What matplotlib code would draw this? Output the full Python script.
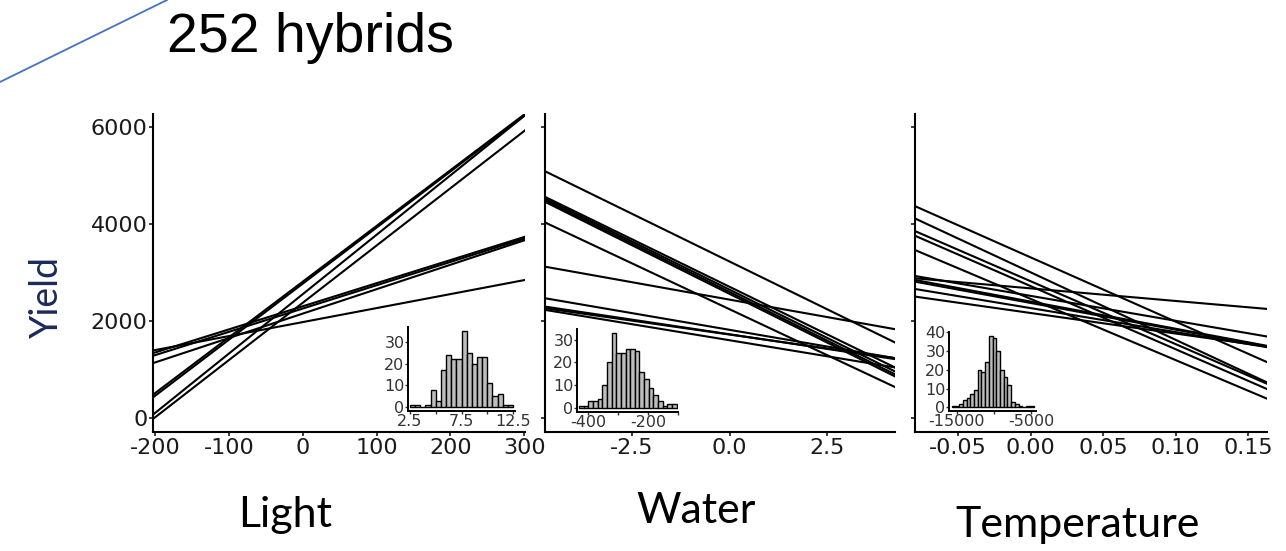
import numpy as np
import matplotlib
matplotlib.use('Agg')
import matplotlib.pyplot as plt
from matplotlib.lines import Line2D

plt.rcParams['axes.unicode_minus'] = False
plt.rcParams['font.family'] = 'DejaVu Sans'

W, H = 1286, 551

# regression lines: yield at the left and right edge of each panel
light_left = [480, 425, 69, -20, 1392, 1337, 1282, 1131]
light_right = [6270, 6250, 6240, 5930, 2846, 3737, 3703, 3668]
water_left = [5088, 4560, 4526, 4491, 4457, 4032, 3120, 2469, 2297, 2263, 2229]
water_right = [1557, 1042, 960, 900, 857, 638, 1831, 1234, 1214, 1234, 1042]
temp_left = [4368, 4114, 3854, 3758, 3463, 2928, 2880, 2846, 2811, 2660, 2503]
temp_right = [1152, 734, 706, 597, 398, 1680, 2249, 1488, 1474, 1460, 1474]

light_ticks = [-200, -100, 0, 100, 200, 300]
light_labels = ['-200', '-100', '0', '100', '200', '300']
water_ticks = [-2.5, 0.0, 2.5]
water_labels = ['-2.5', '0.0', '2.5']
temp_ticks = [-0.05, 0.0, 0.05, 0.10, 0.15]
temp_labels = ['-0.05', '0.00', '0.05', '0.10', '0.15']
yield_ticks = [0, 2000, 4000, 6000]

# slope histograms (insets)
light_start, light_bw = 2.5, 0.5
light_counts = [1, 1, 0, 1, 8, 3, 17, 24, 22, 22, 35, 25, 20, 23, 23, 11, 5, 6, 1, 1]
water_start, water_bw = -430, 15.5
water_counts = [1, 1, 3, 3, 4, 10, 20, 33, 24, 24, 26, 26, 25, 16, 13, 9, 6, 3, 1, 2, 2]
temp_start, temp_bw = -15700, 500
temp_counts = [1, 1, 2, 4, 5, 7, 9, 20, 19, 24, 38, 37, 30, 20, 16, 12, 3, 2, 1, 0, 1, 1]


def rect(x0, x1, ytop, ybot):
    return [x0 / W, 1 - ybot / H, (x1 - x0) / W, (ybot - ytop) / H]


def style(ax, lw=1.5):
    for s in ['top', 'right']:
        ax.spines[s].set_visible(False)
    for s in ['left', 'bottom']:
        ax.spines[s].set_linewidth(lw)
        ax.spines[s].set_color('black')
    ax.set_facecolor('none')


fig = plt.figure(figsize=(W / 100, H / 100), dpi=100)

panels = [
    (rect(153, 525, 114, 432), (-203, 301), light_left, light_right, light_ticks, light_labels),
    (rect(545, 895, 114, 432), (-4.72, 4.23), water_left, water_right, water_ticks, water_labels),
    (rect(915, 1267, 114, 432), (-0.0797, 0.1631), temp_left, temp_right, temp_ticks, temp_labels),
]
for i, (pos, xlim, left, right, ticks, labels) in enumerate(panels):
    ax = fig.add_axes(pos)
    style(ax)
    for a, b in zip(left, right):
        ax.plot(xlim, [a, b], color='black', lw=1.5)
    ax.set_xlim(xlim)
    ax.set_ylim(-289, 6268)
    ax.set_xticks(ticks)
    ax.set_xticklabels(labels)
    ax.set_yticks(yield_ticks)
    ax.tick_params(length=3, width=1.2, pad=1, labelsize=16, colors='#1a1a1a')
    if i > 0:
        ax.tick_params(labelleft=False)

insets = [
    (rect(408, 515, 327, 411), (2.3, 12.7), light_start, light_bw, light_counts,
     [2.5, 5, 7.5, 10, 12.5], ['2.5', '', '7.5', '', '12.5'], [0, 10, 20, 30]),
    (rect(577, 678, 329, 412), (-437, -101), water_start, water_bw, water_counts,
     [-400, -300, -200, -100], ['-400', '', '-200', ''], [0, 10, 20, 30]),
    (rect(949, 1036, 332, 411), (-16050, -4370), temp_start, temp_bw, temp_counts,
     [-15000, -10000, -5000], ['-15000', '', '-5000'], [0, 10, 20, 30, 40]),
]
for pos, xlim, start, bw, counts, xt, xl, yt in insets:
    ax = fig.add_axes(pos)
    style(ax, lw=1.4)
    edges = start + bw * np.arange(len(counts))
    ax.bar(edges, counts, width=bw, align='edge', color='#bdbdbd',
           edgecolor='black', linewidth=1.0)
    ax.set_xlim(xlim)
    ax.set_ylim(-0.05 * max(counts), 1.05 * max(counts))
    ax.set_xticks(xt)
    ax.set_xticklabels(xl)
    ax.set_yticks(yt)
    ax.tick_params(length=2, width=1, pad=0.5, labelsize=11.5, colors='#333333')

fig.add_artist(Line2D([0, 167 / W], [1 - 82 / H, 1], color='#4472c4', lw=1.3,
                      transform=fig.transFigure))
fig.text(167 / W, 1 - 52 / H, '252 hybrids', family='Liberation Sans', fontsize=40,
         va='baseline', ha='left')
fig.text(58 / W, 1 - 297 / H, 'Yield', family='Lato', fontsize=27, color='#1c2a5a',
         rotation=90, rotation_mode='anchor', ha='center', va='baseline')
fig.text(285 / W, 1 - 527 / H, 'Light', family='Lato', fontsize=31, ha='center', va='baseline')
fig.text(696 / W, 1 - 523 / H, 'Water', family='Lato', fontsize=31, ha='center', va='baseline')
fig.text(1078 / W, 1 - 537 / H, 'Temperature', family='Lato', fontsize=31, ha='center',
         va='baseline')

fig.savefig('out.png', dpi=100)
